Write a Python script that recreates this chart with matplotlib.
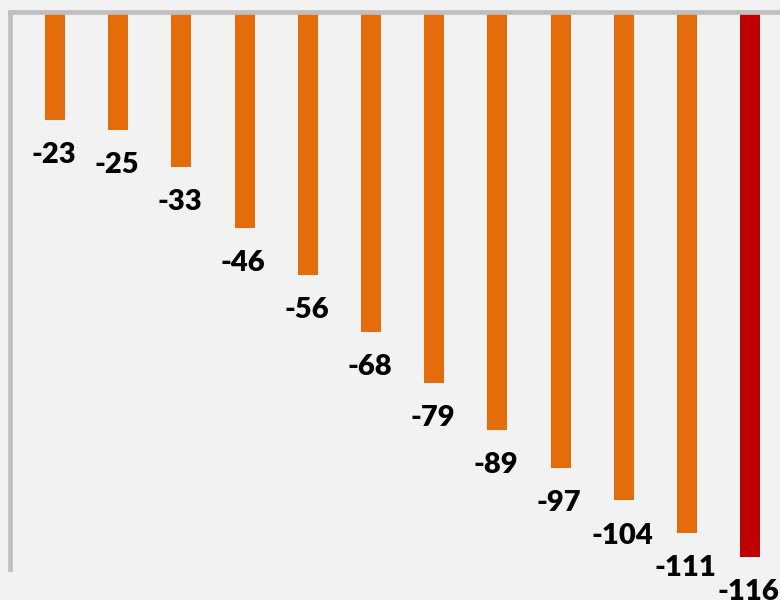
import matplotlib.pyplot as plt

values = [-23, -25, -33, -46, -56, -68, -79, -89, -97, -104, -111, -116]
labels = [str(v) for v in values]
colors = ['#E46C0A'] * 11 + ['#C00000']

W, H = 780, 600
fig = plt.figure(figsize=(W / 100, H / 100), dpi=100, facecolor='#F2F2F2')
# axes box in pixel terms: left 10, top 12.4, bottom 569, runs off the right edge
ax = fig.add_axes([10 / W, (H - 569) / H, 775 / W, (569 - 12.4) / H])
ax.set_facecolor('#F2F2F2')

x = list(range(len(values)))
ax.bar(x, values, width=0.316, color=colors, zorder=1)

for xi, v, lab in zip(x, values, labels):
    ax.annotate(lab, (xi, v), xytext=(-1, -31), textcoords='offset points',
                ha='center', va='baseline', fontsize=21, fontweight='heavy',
                family=['Lato', 'DejaVu Sans'], color='black', annotation_clip=False)

ax.set_xlim(-0.712, 11.55)
ax.set_ylim(-118.6, 0)

for side in ['right', 'bottom']:
    ax.spines[side].set_visible(False)
for side in ['left', 'top']:
    ax.spines[side].set_color('#BFBFBF')
    ax.spines[side].set_linewidth(3.4)
    ax.spines[side].set_zorder(3)
ax.set_xticks([])
ax.set_yticks([])

fig.savefig('out.png', dpi=100, facecolor=fig.get_facecolor())
